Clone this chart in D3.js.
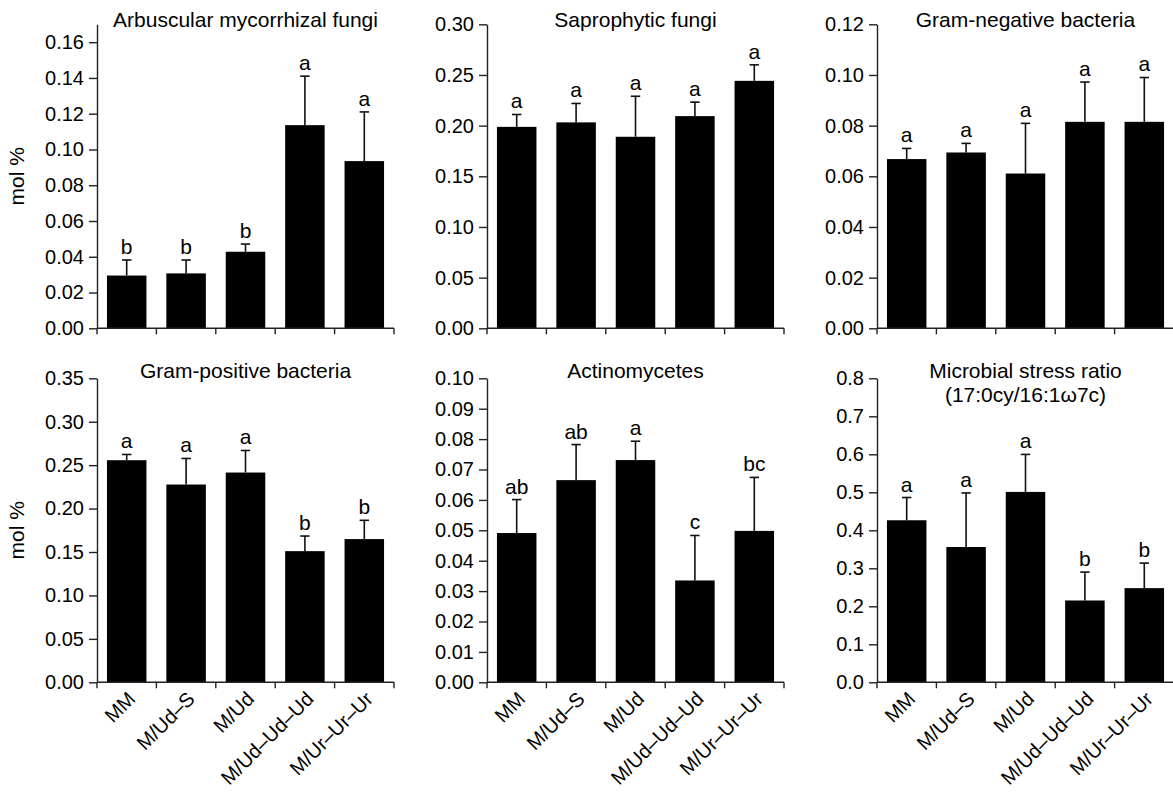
<!DOCTYPE html>
<html><head><meta charset="utf-8">
<script src="https://cdn.jsdelivr.net/npm/d3@7"></script>
<style>
body{margin:0;background:#fff;}
svg text{font-family:"Liberation Sans",Arial,Helvetica,sans-serif;fill:#000;}
</style></head><body>
<svg id="chart" width="1173" height="793"></svg>
<script>
// ---- data ----
const categories = ["MM","M/Ud–S","M/Ud","M/Ud–Ud–Ud","M/Ur–Ur–Ur"];

const amfMean = [0.0295,0.0307,0.0428,0.1136,0.0935];
const amfErr  = [0.0087,0.0075,0.0043,0.0274,0.0275];
const amfSig  = ["b","b","b","a","a"];
const amfTicks = [0,0.02,0.04,0.06,0.08,0.10,0.12,0.14,0.16];

const sapMean = [0.1988,0.2032,0.1890,0.2094,0.2442];
const sapErr  = [0.0122,0.0187,0.0400,0.0138,0.0158];
const sapSig  = ["a","a","a","a","a"];
const sapTicks = [0,0.05,0.10,0.15,0.20,0.25,0.30];

const gnMean = [0.0668,0.0694,0.0611,0.0815,0.0815];
const gnErr  = [0.0042,0.0036,0.0198,0.0157,0.0175];
const gnSig  = ["a","a","a","a","a"];
const gnTicks = [0,0.02,0.04,0.06,0.08,0.10,0.12];

const gpMean = [0.2557,0.2277,0.2415,0.1510,0.1649];
const gpErr  = [0.0066,0.0300,0.0254,0.0174,0.0216];
const gpSig  = ["a","a","a","b","b"];
const gpTicks = [0,0.05,0.10,0.15,0.20,0.25,0.30,0.35];

const actMean = [0.0491,0.0665,0.0731,0.0335,0.0498];
const actErr  = [0.0110,0.0117,0.0062,0.0148,0.0176];
const actSig  = ["ab","ab","a","c","bc"];
const actTicks = [0,0.01,0.02,0.03,0.04,0.05,0.06,0.07,0.08,0.09,0.10];

const stressMean = [0.4264,0.3560,0.5010,0.2153,0.2478];
const stressErr  = [0.0599,0.1424,0.0987,0.0747,0.0659];
const stressSig  = ["a","a","a","b","b"];
const stressTicks = [0,0.1,0.2,0.3,0.4,0.5,0.6,0.7,0.8];

const titles = [
  ["Arbuscular mycorrhizal fungi"],
  ["Saprophytic fungi"],
  ["Gram-negative bacteria"],
  ["Gram-positive bacteria"],
  ["Actinomycetes"],
  ["Microbial stress ratio","(17:0cy/16:1ω7c)"]
];
const yMax = [0.17,0.30,0.12,0.35,0.10,0.80];
const yLabel = "mol %";

// ---- layout ----
const svg = d3.select("#chart");
const colX = [97,487,877];
const rowY = [24.3,378.3];
const titleY = [27.3,377.5];
const W = 297, H = 304;
const tickFont = 20, textFont = 21, xFont = 20;

const panels = [
  {mean:amfMean, err:amfErr, sig:amfSig, ticks:amfTicks, fmt:".2f"},
  {mean:sapMean, err:sapErr, sig:sapSig, ticks:sapTicks, fmt:".2f"},
  {mean:gnMean, err:gnErr, sig:gnSig, ticks:gnTicks, fmt:".2f"},
  {mean:gpMean, err:gpErr, sig:gpSig, ticks:gpTicks, fmt:".2f"},
  {mean:actMean, err:actErr, sig:actSig, ticks:actTicks, fmt:".2f"},
  {mean:stressMean, err:stressErr, sig:stressSig, ticks:stressTicks, fmt:".1f"}
];

panels.forEach((p,i)=>{
  const col = i%3, row = Math.floor(i/3);
  const g = svg.append("g").attr("transform",`translate(${colX[col]},${rowY[row]})`);
  const x = d3.scaleBand().domain(categories).range([0,W]).paddingInner(0.335).paddingOuter(0.1675);
  const y = d3.scaleLinear().domain([0,yMax[i]]).range([H,0]);
  const step = x.step();

  // bars
  g.selectAll("rect.bar").data(p.mean).join("rect")
    .attr("x",(d,j)=>x(categories[j]))
    .attr("y",d=>y(d))
    .attr("width",x.bandwidth())
    .attr("height",d=>H-y(d))
    .attr("fill","#000");

  // error bars
  const cap = 4.7;
  p.mean.forEach((m,j)=>{
    const cx = x(categories[j]) + x.bandwidth()/2;
    const yt = y(m+p.err[j]);
    g.append("line").attr("x1",cx).attr("x2",cx).attr("y1",y(m)).attr("y2",yt)
      .attr("stroke","#111").attr("stroke-width",1.6);
    g.append("line").attr("x1",cx-cap).attr("x2",cx+cap).attr("y1",yt).attr("y2",yt)
      .attr("stroke","#111").attr("stroke-width",1.6);
    g.append("text").attr("x",cx).attr("y",yt-6)
      .attr("text-anchor","middle").style("font-size",textFont+"px")
      .text(p.sig[j]);
  });

  // y axis
  const ya = g.append("g").call(d3.axisLeft(y).tickValues(p.ticks).tickFormat(d3.format(p.fmt)).tickSize(8).tickPadding(5).tickSizeOuter(0));
  ya.select(".domain").attr("stroke","#222").attr("stroke-width",1.4);
  ya.selectAll(".tick line").attr("stroke","#222").attr("stroke-width",1.4);
  ya.selectAll(".tick text").style("font-size",tickFont+"px").attr("fill","#000")
    .style("font-family",'"Liberation Sans",Arial,sans-serif');

  // x axis: line + ticks at band boundaries
  const xa = g.append("g").attr("transform",`translate(0,${H})`);
  xa.append("line").attr("x1",0).attr("x2",W).attr("y1",0).attr("y2",0)
    .attr("stroke","#222").attr("stroke-width",1.4);
  d3.range(categories.length+1).forEach(k=>{
    const tx = k*step;
    xa.append("line").attr("x1",tx).attr("x2",tx).attr("y1",0).attr("y2",6)
      .attr("stroke","#222").attr("stroke-width",1.4);
  });
  if(row===1){
    categories.forEach(c=>{
      const cx = x(c)+x.bandwidth()/2;
      xa.append("text")
        .attr("transform",`translate(${cx+5},${13}) rotate(-45)`)
        .attr("text-anchor","end").attr("dy","0.35em")
        .style("font-size",xFont+"px").text(c);
    });
  }

  // title
  titles[i].forEach((t,k)=>{
    g.append("text").attr("x",W/2).attr("y",titleY[row]-rowY[row]+k*25)
      .attr("text-anchor","middle").style("font-size",textFont+"px").text(t);
  });

  // y label
  if(col===0){
    g.append("text").attr("transform",`translate(${-73},${H/2}) rotate(-90)`)
      .attr("text-anchor","middle").style("font-size",textFont+"px").text(yLabel);
  }
});
</script>
</body></html>
